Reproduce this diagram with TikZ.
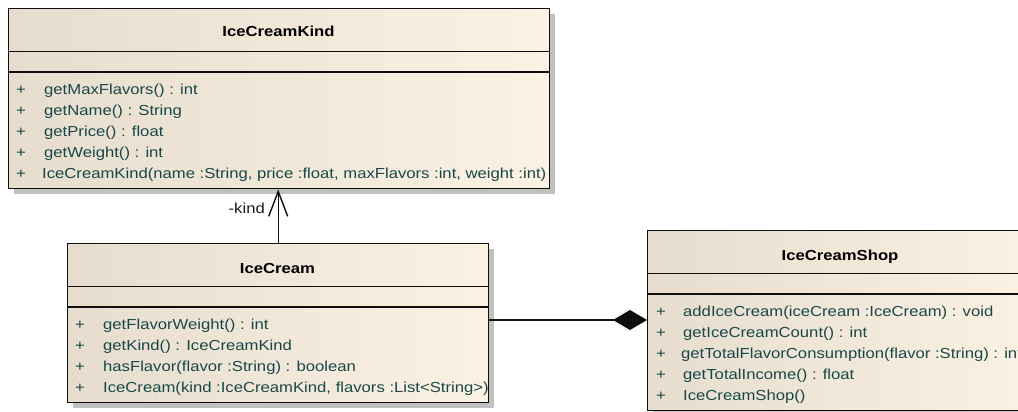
\documentclass[tikz,border=0pt]{standalone}
\usepackage{fontspec}
\setmainfont{Liberation Sans}[FakeStretch=1.15]
\usetikzlibrary{arrows.meta,shadows,calc}

\definecolor{boxleft}{RGB}{230,221,207}
\definecolor{boxright}{RGB}{252,242,228}
\definecolor{membertext}{RGB}{24,72,72}
\definecolor{shadowgray}{RGB}{192,192,192}
\definecolor{edgeline}{RGB}{15,15,15}

\tikzset{
  classbox/.style={rectangle, draw=edgeline, line width=1.4pt, inner sep=0pt,
    anchor=north west, left color=boxleft, right color=boxright,
    general shadow={fill=shadowgray, shadow xshift=5pt, shadow yshift=-5pt}},
  divider/.style={draw=edgeline, line width=1.4pt},
  classname/.style={anchor=base, inner sep=0pt, text=black,
    font=\fontsize{14.5}{16}\selectfont\bfseries},
  vis/.style={anchor=base, inner sep=0pt, text=membertext,
    font=\fontsize{14.5}{16}\selectfont},
  member/.style={anchor=base west, inner sep=0pt, text=membertext,
    font=\fontsize{14.5}{16}\selectfont},
  rolename/.style={anchor=base east, inner sep=0pt, text=black!90,
    font=\fontsize{14.5}{16}\selectfont},
  assoc/.style={draw=edgeline, line width=1.4pt},
}

\begin{document}
\begin{tikzpicture}[x=1pt, y=-1pt]
  \useasboundingbox (0,0) rectangle (1018,412);
  \clip (0,0) rectangle (1018,412);

  % class boxes
  \node[classbox, minimum width=541pt, minimum height=180pt] (kind) at (8,8) {};
  \node[classbox, minimum width=421pt, minimum height=159pt] (cream) at (67,243) {};
  \node[classbox, minimum width=390pt, minimum height=180pt] (shop) at (647,230) {};

  % compartment separators
  \foreach \b in {kind, cream, shop} {
    \draw[divider] ($(\b.north west)+(0,43.5)$) -- ($(\b.north east)+(0,43.5)$);
    \draw[divider] ($(\b.north west)+(0,64)$) -- ($(\b.north east)+(0,64)$);
  }

  % IceCreamKind
  \node[classname] (kindname) at (278.5,37) {IceCreamKind};
  \node[vis] (kp1) at (21,94.5) {+};
  \node[member] (km1) at (44,94.5) {getMaxFlavors() : int};
  \node[vis] (kp2) at (21,115.5) {+};
  \node[member] (km2) at (44,115.5) {getName() : String};
  \node[vis] (kp3) at (21,136.5) {+};
  \node[member] (km3) at (44,136.5) {getPrice() : float};
  \node[vis] (kp4) at (21,157.5) {+};
  \node[member] (km4) at (44,157.5) {getWeight() : int};
  \node[vis] (kp5) at (21,178.5) {+};
  \node[member] (km5) at (42,178.5) {IceCreamKind(name :String, price :float, maxFlavors :int, weight :int)};

  % IceCream
  \node[classname] (creamname) at (277.5,273) {IceCream};
  \node[vis] (cp1) at (80,329.5) {+};
  \node[member] (cm1) at (103,329.5) {getFlavorWeight() : int};
  \node[vis] (cp2) at (80,350.5) {+};
  \node[member] (cm2) at (103,350.5) {getKind() : IceCreamKind};
  \node[vis] (cp3) at (80,371.5) {+};
  \node[member] (cm3) at (103,371.5) {hasFlavor(flavor :String) : boolean};
  \node[vis] (cp4) at (80,392.5) {+};
  \node[member] (cm4) at (103,392.5) {IceCream(kind :IceCreamKind, flavors :List<String>)};

  % IceCreamShop
  \node[classname] (shopname) at (840,260) {IceCreamShop};
  \node[vis] (sp1) at (661,316.5) {+};
  \node[member] (sm1) at (683,316.5) {addIceCream(iceCream :IceCream) : void};
  \node[vis] (sp2) at (661,337.5) {+};
  \node[member] (sm2) at (683,337.5) {getIceCreamCount() : int};
  \node[vis] (sp3) at (661,358.5) {+};
  \node[member] (sm3) at (681,358.5) {getTotalFlavorConsumption(flavor :String) : int};
  \node[vis] (sp4) at (661,379.5) {+};
  \node[member] (sm4) at (683,379.5) {getTotalIncome() : float};
  \node[vis] (sp5) at (661,400.5) {+};
  \node[member] (sm5) at (683,400.5) {IceCreamShop()};

  % directed association IceCream -> IceCreamKind
  \draw[assoc, -{Straight Barb[length=25pt, width=19pt]}]
    (cream.north) -- (cream.north |- kind.south);
  \node[rolename] (kindrole) at (265,213) {-kind};

  % composition IceCreamShop <>-- IceCream
  \coordinate (level) at (0,320);
  \draw[assoc, -{Diamond[length=34pt, width=20pt]}]
    (cream.east |- level) -- (shop.west |- level);
\end{tikzpicture}
\end{document}
